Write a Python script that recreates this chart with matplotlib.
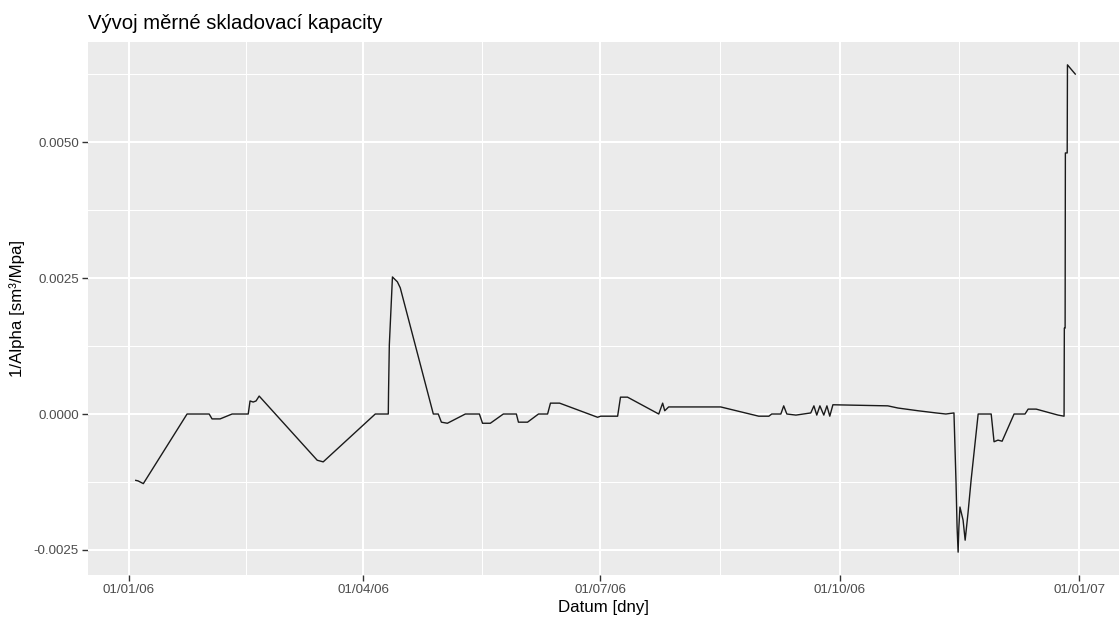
import matplotlib
matplotlib.use("Agg")
import matplotlib.pyplot as plt
import matplotlib.dates as mdates
import pandas as pd
import numpy as np

plt.rcParams['font.family'] = ['Liberation Sans', 'DejaVu Sans']

# Data: days since 2006-01-01 and value of 1/Alpha
days_since_2006 = [2.6, 3.5, 5.5, 22.3, 30.8, 31.9, 35.0, 39.6, 45.8, 46.5, 47.7, 48.8, 50.0,
                   72.3, 74.6, 94.6, 99.6, 99.7, 100.0, 100.8, 101.2, 103.1, 104.2,
                   116.9, 118.8, 120.0, 122.3, 129.2, 134.6, 135.8, 138.8, 143.8, 148.8,
                   149.6, 153.1, 157.3, 160.8, 161.9, 165.4, 180.0, 181.2, 187.7, 188.8,
                   191.5, 203.5, 205.0, 205.8, 207.3, 227.3, 241.9, 245.8, 246.9, 250.4,
                   251.5, 252.7, 256.2, 261.9, 263.1, 264.2, 265.4, 266.9, 268.1, 269.2,
                   270.4, 291.5, 295.4, 303.1, 310.0, 313.8, 316.9, 317.7, 318.1, 318.5,
                   318.8, 319.2, 320.4, 321.2, 322.3, 323.5, 326.2, 331.2, 332.3, 333.8,
                   335.4, 340.0, 344.2, 345.4, 348.5, 356.9, 359.2, 359.3, 359.6, 359.7,
                   360.4, 360.5, 361.9, 363.5]
inv_alpha = [-0.00122, -0.00123, -0.00128, 0.0, 0.0, -0.00009, -0.00009, 0.0, 0.0, 0.00024,
             0.00022, 0.00024, 0.00033, -0.00085, -0.00088, 0.0, 0.0, 0.00040, 0.00127,
             0.00210, 0.00252, 0.00243, 0.00232, 0.0, 0.0, -0.00015, -0.00017, 0.0, 0.0,
             -0.00017, -0.00017, 0.0, 0.0, -0.00015, -0.00015, 0.0, 0.0, 0.00020, 0.00020,
             -0.00006, -0.00004, -0.00004, 0.00031, 0.00031, 0.0, 0.00020, 0.00006, 0.00013,
             0.00013, -0.00004, -0.00004, 0.0, 0.0, 0.00015, 0.0, -0.00002, 0.00002, 0.00015,
             -0.00002, 0.00015, -0.00002, 0.00015, -0.00004, 0.00017, 0.00015, 0.00011,
             0.00006, 0.00002, 0.0, 0.00002, -0.00127, -0.00208, -0.00254, -0.00208,
             -0.00171, -0.00195, -0.00232, -0.00182, -0.00121, 0.0, 0.0, -0.00051, -0.00048,
             -0.00050, 0.0, 0.0, 0.00009, 0.00009, -0.00002, -0.00004, 0.00158, 0.00158,
             0.00480, 0.00480, 0.00642, 0.00634, 0.00625]

x_major = ['2006-01-01', '2006-04-01', '2006-07-01', '2006-10-01', '2007-01-01']
x_labels = ['01/01/06', '01/04/06', '01/07/06', '01/10/06', '01/01/07']
y_major = [-0.0025, 0.0, 0.0025, 0.0050]
y_labels = ['-0.0025', '0.0000', '0.0025', '0.0050']

title = 'Vývoj měrné skladovací kapacity'
xlabel = 'Datum [dny]'
ylabel = '1/Alpha [sm³/Mpa]'

base = pd.Timestamp('2006-01-01')
dates = base + pd.to_timedelta(days_since_2006, unit='D')

W, H = 1119, 623
fig = plt.figure(figsize=(W / 100, H / 100), dpi=100)
fig.patch.set_facecolor('white')
left, right, top, bottom = 88, 1119, 42, 575
ax = fig.add_axes([left / W, 1 - bottom / H, (right - left) / W, (bottom - top) / H])
ax.set_facecolor('#EBEBEB')
for s in ax.spines.values():
    s.set_visible(False)

ax.plot(dates, inv_alpha, color='#1a1a1a', lw=1.0, zorder=3)

xmaj = pd.to_datetime(x_major)
xmin_lines = [xmaj[i] + (xmaj[i + 1] - xmaj[i]) / 2 for i in range(len(xmaj) - 1)]
for d in xmin_lines:
    ax.axvline(d, color='white', lw=0.75, zorder=1)
for d in xmaj:
    ax.axvline(d, color='white', lw=1.45, zorder=2)
y_minor = [-0.00125, 0.00125, 0.00375, 0.00625]
for v in y_minor:
    ax.axhline(v, color='white', lw=0.75, zorder=1)
for v in y_major:
    ax.axhline(v, color='white', lw=1.45, zorder=2)

ax.set_xlim(base + pd.Timedelta(days=-15.75), base + pd.Timedelta(days=380.3))
ax.set_ylim(-0.00296, 0.00684)

ax.set_xticks(xmaj)
ax.set_xticklabels(x_labels)
ax.set_yticks(y_major)
ax.set_yticklabels(y_labels)
ax.tick_params(axis='both', colors='#333333', length=4, width=1.0, labelcolor='#4D4D4D',
               labelsize=9.6, pad=2.5)

ax.set_xlabel(xlabel, fontsize=12.2, color='black', labelpad=3)
ax.set_ylabel(ylabel, fontsize=12.2, color='black', labelpad=6)
fig.text(left / W, 1 - 29 / H, title, fontsize=14.6, color='black', ha='left', va='baseline')

fig.savefig('out.png', dpi=100, facecolor='white')
